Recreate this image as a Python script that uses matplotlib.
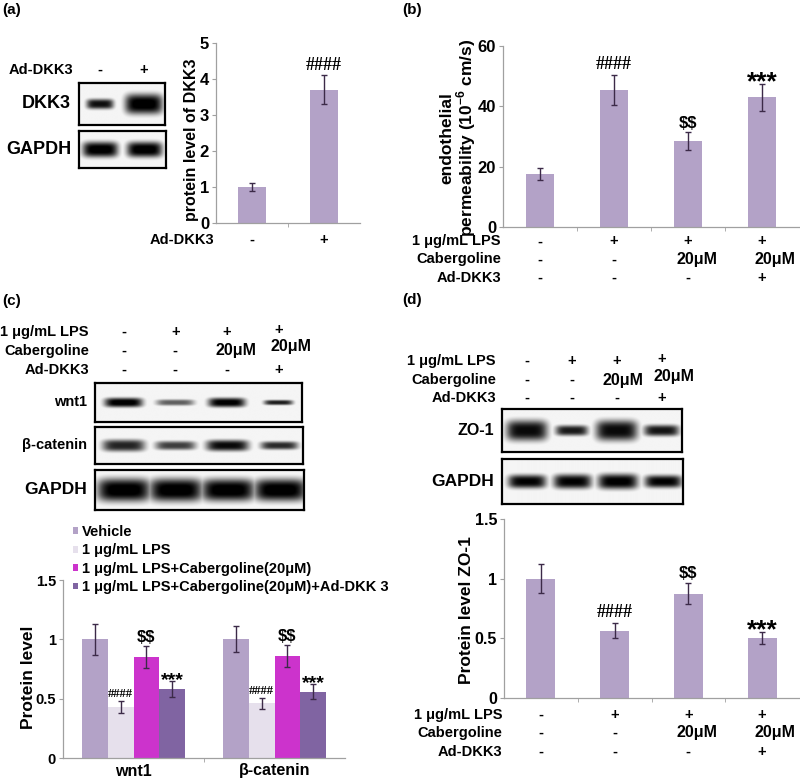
import numpy as np
import matplotlib
matplotlib.use('Agg')
import matplotlib.pyplot as plt

plt.rcParams['font.family'] = ['Liberation Sans', 'DejaVu Sans']
plt.rcParams['font.weight'] = 'bold'
plt.rcParams['mathtext.fontset'] = 'custom'
plt.rcParams['mathtext.rm'] = 'Liberation Sans:bold'
plt.rcParams['mathtext.bf'] = 'Liberation Sans:bold'

W, H = 800, 779

# ---- data ----
dkk3_groups = ['-', '+']
dkk3_mean = [1.0, 3.7]
dkk3_err = [0.1, 0.4]
dkk3_marks = ['', '####']

row_names = ['1 μg/mL LPS', 'Cabergoline', 'Ad-DKK3']
lps_row = ['-', '+', '+', '+']
cab_row = ['-', '-', '20μM', '20μM']
dkk_row = ['-', '-', '-', '+']

perm_mean = [17.5, 45.5, 28.5, 43.0]
perm_err = [2.0, 5.0, 3.0, 4.5]
perm_marks = ['', '####', '$$', '***']

wnt_genes = ['wnt1', 'β-catenin']
wnt_series = ['Vehicle', '1 μg/mL LPS', '1 μg/mL LPS+Cabergoline(20μM)',
              '1 μg/mL LPS+Cabergoline(20μM)+Ad-DKK 3']
wnt_mean = [[1.0, 1.0], [0.43, 0.46], [0.85, 0.86], [0.58, 0.56]]
wnt_err = [[0.13, 0.11], [0.05, 0.045], [0.09, 0.09], [0.065, 0.065]]
wnt_marks = ['', '####', '$$', '***']

zo1_mean = [1.0, 0.565, 0.875, 0.5]
zo1_err = [0.12, 0.065, 0.09, 0.05]
zo1_marks = ['', '####', '$$', '***']

# band (width in lanes, height as fraction of box, ink 0..1)
dkk3_band = ([0.62, 0.86], [0.24, 0.48], [0.9, 1.0])
gapdh_a_band = ([0.8, 0.8], [0.42, 0.42], [1.0, 1.0])
wnt1_band = ([0.74, 0.74, 0.72, 0.56], [0.24, 0.16, 0.24, 0.13], [1.0, 0.6, 0.98, 0.85])
bcat_band = ([0.82, 0.78, 0.82, 0.72], [0.32, 0.24, 0.3, 0.22], [0.82, 0.72, 0.92, 0.8])
gapdh_c_band = ([1.02, 1.02, 1.02, 1.0], [0.58, 0.58, 0.56, 0.56], [1.0, 1.0, 1.0, 1.0])
zo1_band = ([0.92, 0.72, 0.93, 0.78], [0.48, 0.24, 0.48, 0.26], [0.92, 0.86, 0.92, 0.88])
gapdh_d_band = ([0.84, 0.84, 0.88, 0.82], [0.3, 0.32, 0.34, 0.28], [0.95, 0.95, 0.97, 0.95])

bar_color = '#b3a2c7'
series_colors = ['#b3a2c7', '#e6e0ec', '#cc33cc', '#8064a2']
err_color = '#3c2a48'
grey = '#a0a0a0'

fig = plt.figure(figsize=(W / 100, H / 100), dpi=100)


def px_ax(x0, y0, x1, y1):
    return fig.add_axes([x0 / W, 1 - y1 / H, (x1 - x0) / W, (y1 - y0) / H])


def pt(v):
    # pixels -> points
    return v * 0.72


def blot(box, band, label, label_size, n):
    ax = px_ax(*box)
    lo, hi = -0.55, n - 0.55
    if n == 2:
        lo, hi = -0.48, 1.48
    xs = np.linspace(lo, hi, 400)
    ys = np.linspace(0, 1, 90)
    X, Y = np.meshgrid(xs, ys)
    img = np.full_like(X, 0.04)
    for i, (w, h, k) in enumerate(zip(*band)):
        b = k * np.exp(-np.abs((X - i) / (w / 2)) ** 5) * np.exp(-np.abs((Y - 0.5) / (h / 2)) ** 3)
        img = np.maximum(img, b)
    ax.imshow(img, extent=(lo, hi, 0, 1), cmap='gray_r', vmin=0, vmax=0.95,
              aspect='auto', interpolation='bilinear', origin='lower')
    ax.set_xlim(lo, hi)
    ax.set_ylim(0, 1)
    ax.set_xticks([])
    ax.set_yticks([])
    for s in ax.spines.values():
        s.set_linewidth(1.6)
        s.set_color('black')
    ax.annotate(label, xy=(0, 0.5), xycoords='axes fraction', xytext=(pt(-8), 0),
                textcoords='offset points', ha='right', va='center', fontsize=label_size)
    return ax


def header(ax, rows, names, offsets, shifts):
    # rows of +/- above a blot
    for r, (name, row) in enumerate(zip(names, rows)):
        dy = offsets[r]
        ax.annotate(name, xy=(0, 1), xycoords='axes fraction', xytext=(pt(-6), pt(dy)),
                    textcoords='offset points', ha='right', va='center', fontsize=10.5)
        for i, v in enumerate(row):
            sx, sy = shifts.get((r, i), (0, 0))
            ax.annotate(v, xy=(i, 1), xycoords=('data', 'axes fraction'),
                        xytext=(pt(sx), pt(dy + sy)), textcoords='offset points',
                        ha='center', va='center', fontsize=10.5 if v in '-+' else 11.5)


def excel_axes(ax, n, ymax, yticks, ylabels, size):
    ax.set_xlim(-0.5, n - 0.5)
    ax.set_ylim(0, ymax)
    for s in ['top', 'right']:
        ax.spines[s].set_visible(False)
    for s in ['left', 'bottom']:
        ax.spines[s].set_color(grey)
        ax.spines[s].set_linewidth(0.9)
    ax.set_yticks(yticks)
    ax.set_yticklabels(ylabels, fontsize=size)
    ax.tick_params(axis='y', length=3, color=grey, pad=2)
    ax.set_xticks([])
    ax.set_xticks(np.arange(0.5, n - 0.5), minor=True)
    ax.tick_params(axis='x', which='minor', length=3, color=grey)


def marks(ax, xs, tops, labels, sizes):
    for x, t, m in zip(xs, tops, labels):
        if not m:
            continue
        if m.startswith('*'):
            # asterisks sit high in the em box, so anchor on the baseline
            s = sizes['*']
            ax.annotate(m, xy=(x, t), xytext=(0, -0.2 * s), textcoords='offset points',
                        ha='center', va='baseline', fontsize=s)
            continue
        fam = ['Liberation Serif'] if m.startswith('#') else ['Liberation Sans']
        ax.annotate(m.replace('$', r'\$'), xy=(x, t), xytext=(0, 1), textcoords='offset points',
                    ha='center', va='bottom', fontsize=sizes[m[0]], family=fam)


def under_rows(ax, rows, names, offsets, shifts):
    for r, (name, row) in enumerate(zip(names, rows)):
        dy = -offsets[r]
        ax.annotate(name, xy=(0, 0), xycoords='axes fraction', xytext=(pt(-2), pt(dy)),
                    textcoords='offset points', ha='right', va='center', fontsize=10.5)
        for i, v in enumerate(row):
            sx = shifts.get((r, i), 0)
            ax.annotate(v, xy=(i, 0), xycoords=('data', 'axes fraction'),
                        xytext=(pt(sx), pt(dy)), textcoords='offset points',
                        ha='center', va='center', fontsize=10.5 if v in '-+' else 11.5)


err_kw = dict(ecolor=err_color, elinewidth=1, capsize=2, capthick=1)

# ---- panel labels ----
for s, x, y in [('(a)', 2, 10), ('(b)', 402, 10), ('(c)', 2, 301), ('(d)', 402, 300)]:
    fig.text(x / W, 1 - y / H, s, ha='left', va='center', fontsize=11)

# ---- (a) blots ----
ax_dkk = blot((79, 83, 165, 125), dkk3_band, 'DKK3', 13, 2)
blot((79, 131, 166, 168), gapdh_a_band, 'GAPDH', 13, 2)
header(ax_dkk, [dkk3_groups], ['Ad-DKK3'], [13], {})

# ---- (a) bar chart ----
ax = px_ax(216, 43, 360, 223)
xa = np.arange(len(dkk3_mean))
ax.bar(xa, dkk3_mean, 0.39, color=bar_color, yerr=dkk3_err, error_kw=err_kw)
excel_axes(ax, 2, 5, range(6), [str(v) for v in range(6)], 12)
marks(ax, xa, np.add(dkk3_mean, dkk3_err), dkk3_marks, {'#': 13})
ax.text(-0.17, 0.46, 'protein level of DKK3', rotation=90, ha='center', va='center',
        transform=ax.transAxes, fontsize=11.5)
under_rows(ax, [dkk3_groups], ['Ad-DKK3'], [17], {})

# ---- (b) permeability ----
ax = px_ax(503, 46, 799, 227)
xb = np.arange(len(perm_mean))
ax.bar(xb, perm_mean, 0.39, color=bar_color, yerr=perm_err, error_kw=err_kw)
excel_axes(ax, 4, 60, [0, 20, 40, 60], ['0', '20', '40', '60'], 12)
marks(ax, xb, np.add(perm_mean, perm_err), perm_marks, {'#': 13, '$': 12, '*': 19})
ax.text(-0.15, 0.49, 'endothelial\npermeability (10$^{-6}$ cm/s)', rotation=90, ha='center',
        va='center', transform=ax.transAxes, fontsize=12.5, linespacing=1.0)
under_rows(ax, [lps_row, cab_row, dkk_row], row_names, [14.5, 32.5, 51],
           {(1, 2): 9, (1, 3): 13})

# ---- (c) blots ----
ax_w = blot((95, 383, 302, 422), wnt1_band, 'wnt1', 10.5, 4)
blot((95, 427, 303, 464), bcat_band, 'β-catenin', 10.5, 4)
blot((95, 470, 304, 510), gapdh_c_band, 'GAPDH', 12.5, 4)
header(ax_w, [lps_row, cab_row, dkk_row], row_names, [51, 32, 13],
       {(1, 2): (9, 0), (1, 3): (12, 5), (0, 3): (0, 2)})

# ---- (c) grouped bars ----
ax = px_ax(63, 580, 345, 758)
xg = np.arange(len(wnt_genes))
bw = 0.183
for k in range(len(wnt_series)):
    xk = xg + (k - 1.5) * bw
    ax.bar(xk, wnt_mean[k], bw, color=series_colors[k], yerr=wnt_err[k],
           error_kw=err_kw, label=wnt_series[k])
    marks(ax, xk, np.add(wnt_mean[k], wnt_err[k]), [wnt_marks[k]] * 2,
          {'#': 9, '$': 12, '*': 14})
excel_axes(ax, 2, 1.5, [0, 0.5, 1, 1.5], ['0', '0.5', '1', '1.5'], 10.5)
for i, g in enumerate(wnt_genes):
    ax.annotate(g, xy=(i, 0), xycoords=('data', 'axes fraction'), xytext=(0, pt(-13)),
                textcoords='offset points', ha='center', va='center', fontsize=11.5)
ax.text(-0.124, 0.455, 'Protein level', rotation=90, ha='center', va='center',
        transform=ax.transAxes, fontsize=12.5)
ax.legend(loc='lower left', bbox_to_anchor=(0.035, 0.92), frameon=False, fontsize=10.5,
          handlelength=0.35, handleheight=0.35, handletextpad=0.25, labelspacing=0.3,
          borderpad=0, borderaxespad=0)

# ---- (d) blots ----
ax_z = blot((502, 409, 682, 452), zo1_band, 'ZO-1', 11.5, 4)
blot((502, 459, 683, 504), gapdh_d_band, 'GAPDH', 12.5, 4)
header(ax_z, [lps_row, cab_row, dkk_row], row_names, [48, 29, 11],
       {(1, 2): (6, 0), (1, 3): (12, 4), (0, 3): (0, 2)})

# ---- (d) ZO-1 bars ----
ax = px_ax(504, 519, 799, 698)
xd = np.arange(len(zo1_mean))
ax.bar(xd, zo1_mean, 0.39, color=bar_color, yerr=zo1_err, error_kw=err_kw)
excel_axes(ax, 4, 1.5, [0, 0.5, 1, 1.5], ['0', '0.5', '1', '1.5'], 11.5)
marks(ax, xd, np.add(zo1_mean, zo1_err), zo1_marks, {'#': 13, '$': 12, '*': 19})
ax.text(-0.128, 0.49, 'Protein level ZO-1', rotation=90, ha='center', va='center',
        transform=ax.transAxes, fontsize=12.5)
under_rows(ax, [lps_row, cab_row, dkk_row], row_names, [17, 35, 54],
           {(1, 2): 9, (1, 3): 13})

fig.savefig('out.png', dpi=100)
